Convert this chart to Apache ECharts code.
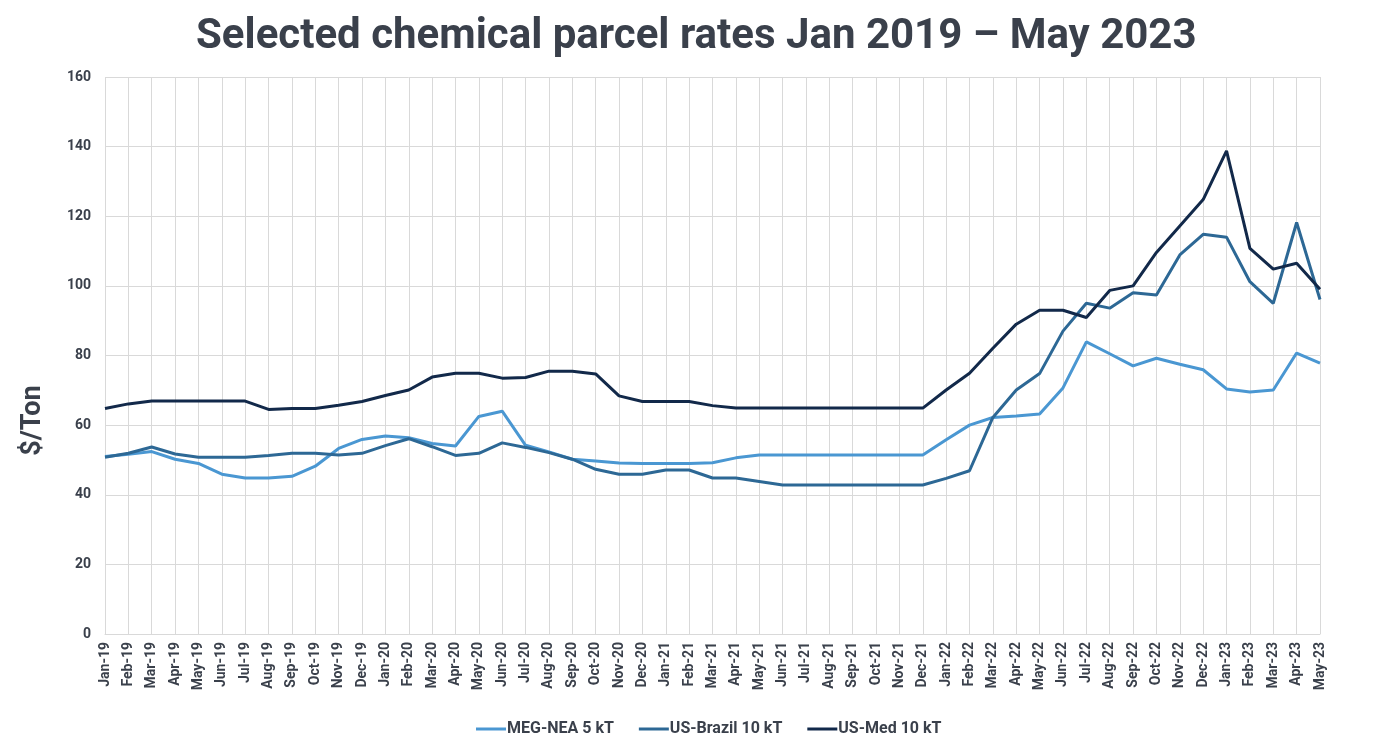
<!DOCTYPE html>
<html style="height: 100%">
<head>
<meta charset="utf-8">
<script src="https://cdn.jsdelivr.net/npm/echarts@6/dist/echarts.min.js"></script>
</head>
<body style="height: 100%; margin: 0; background: #fff">
<div id="container" style="width: 1385px; height: 746px"></div>
<script type="text/javascript">
var months = ['Jan-19','Feb-19','Mar-19','Apr-19','May-19','Jun-19','Jul-19','Aug-19','Sep-19','Oct-19','Nov-19','Dec-19',
  'Jan-20','Feb-20','Mar-20','Apr-20','May-20','Jun-20','Jul-20','Aug-20','Sep-20','Oct-20','Nov-20','Dec-20',
  'Jan-21','Feb-21','Mar-21','Apr-21','May-21','Jun-21','Jul-21','Aug-21','Sep-21','Oct-21','Nov-21','Dec-21',
  'Jan-22','Feb-22','Mar-22','Apr-22','May-22','Jun-22','Jul-22','Aug-22','Sep-22','Oct-22','Nov-22','Dec-22',
  'Jan-23','Feb-23','Mar-23','Apr-23','May-23'];

var megNea = [51, 51.6, 52.4, 50.2, 49, 45.9, 44.8, 44.8, 45.3, 48.2, 53.3, 55.9,
  56.9, 56.4, 54.7, 54, 62.5, 64, 54.2, 52.3, 50.2, 49.7, 49.1, 49,
  49, 49, 49.2, 50.6, 51.4, 51.4, 51.4, 51.4, 51.4, 51.4, 51.4, 51.4,
  55.8, 60, 62.2, 62.6, 63.2, 70.7, 83.9, 80.5, 77, 79.2, 77.5, 75.9,
  70.4, 69.5, 70.1, 80.7, 77.8];

var usBrazil = [50.8, 51.9, 53.7, 51.7, 50.8, 50.8, 50.8, 51.3, 51.9, 51.9, 51.4, 51.9,
  54.1, 56.1, 53.8, 51.3, 51.9, 54.9, 53.6, 52.1, 50.2, 47.3, 45.9, 45.9,
  47.1, 47.1, 44.8, 44.8, 43.8, 42.8, 42.8, 42.8, 42.8, 42.8, 42.8, 42.8,
  44.7, 46.9, 62.2, 70.1, 74.8, 87, 95, 93.6, 98, 97.4, 108.9, 114.8,
  114, 101.2, 95, 118.2, 96.1];

var usMed = [64.8, 66.1, 66.9, 66.9, 66.9, 66.9, 66.9, 64.5, 64.8, 64.8, 65.7, 66.8,
  68.5, 70.1, 73.8, 74.9, 74.9, 73.5, 73.7, 75.5, 75.5, 74.7, 68.4, 66.8,
  66.8, 66.8, 65.6, 64.9, 64.9, 64.9, 64.9, 64.9, 64.9, 64.9, 64.9, 64.9,
  70.1, 74.9, 82.1, 89, 93, 93, 90.9, 98.7, 100, 109.6, 117.2, 124.8,
  138.8, 110.8, 104.8, 106.5, 99];

var seriesNames = ['MEG-NEA 5 kT', 'US-Brazil 10 kT', 'US-Med 10 kT'];
var seriesColors = ['#4a97d2', '#2d6895', '#12294a'];
var seriesData = [megNea, usBrazil, usMed];

var textColor = '#3a404b';
var chart = echarts.init(document.getElementById('container'));

var option = {
    backgroundColor: '#ffffff',
    color: seriesColors,
    title: {
        text: 'Selected chemical parcel rates Jan 2019 \u2013 May 2023',
        left: 191,
        top: 11,
        textStyle: {
            fontFamily: 'Roboto',
            fontWeight: 'bold',
            fontSize: 42,
            color: textColor
        }
    },
    legend: {
        bottom: 4,
        left: 471,
        itemWidth: 30,
        itemHeight: 3,
        itemGap: 25,
        icon: 'rect',
        textStyle: {
            fontFamily: 'Roboto',
            fontWeight: 'bold',
            fontSize: 16,
            color: textColor,
            padding: [0, 0, 0, -4]
        },
        data: seriesNames
    },
    grid: {
        left: 105,
        right: 65,
        top: 77,
        bottom: 112
    },
    xAxis: {
        type: 'category',
        data: months,
        boundaryGap: false,
        axisLine: { lineStyle: { color: '#d9d9d9' } },
        axisTick: { show: false },
        splitLine: { show: true, lineStyle: { color: '#d9d9d9' } },
        axisLabel: {
            interval: 0,
            rotate: 90,
            margin: 8,
            fontFamily: 'Roboto',
            fontWeight: 'bold',
            fontSize: 14,
            color: textColor
        }
    },
    yAxis: {
        type: 'value',
        min: 0,
        max: 160,
        interval: 20,
        name: '$/Ton',
        nameLocation: 'middle',
        nameGap: 58,
        nameTextStyle: {
            fontFamily: 'Roboto',
            fontWeight: 'bold',
            fontSize: 27,
            color: textColor,
            padding: [0, 130, 0, 0]
        },
        axisLine: { show: false },
        axisTick: { show: false },
        splitLine: { lineStyle: { color: '#d9d9d9' } },
        axisLabel: {
            margin: 14,
            fontFamily: 'Roboto',
            fontWeight: 'bold',
            fontSize: 14,
            color: textColor
        }
    },
    series: seriesNames.map(function (name, i) {
        return {
            name: name,
            type: 'line',
            data: seriesData[i],
            symbol: 'none',
            lineStyle: { width: 3, color: seriesColors[i] },
            itemStyle: { color: seriesColors[i] }
        };
    })
};

chart.setOption(option);
</script>
</body>
</html>
